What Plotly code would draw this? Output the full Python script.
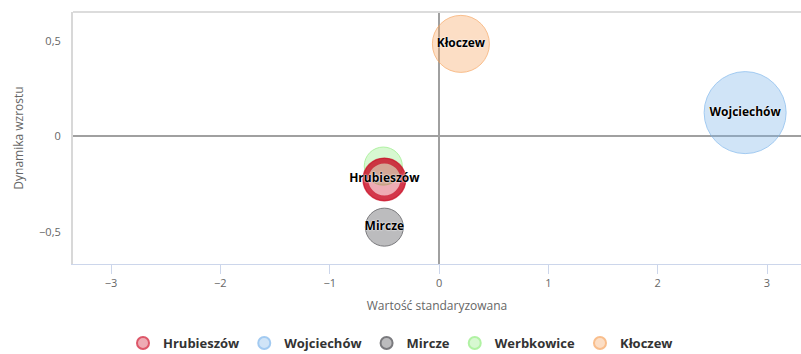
import plotly.graph_objects as go

# ---- data ----
names = ["Hrubieszów", "Wojciechów", "Mircze", "Werbkowice", "Kłoczew"]
x_std = [-0.50, 2.80, -0.50, -0.51, 0.20]          # Wartość standaryzowana
y_dyn = [-0.225, 0.125, -0.475, -0.155, 0.485]     # Dynamika wzrostu
bubble_size = [42, 82, 38, 38, 57]                  # bubble diameter value
colors = ["#d0112b", "#7cb5ec", "#434348", "#90ed7d", "#f7a35c"]
x_ticks = [-3, -2, -1, 0, 1, 2, 3]
y_ticks = [-0.5, 0, 0.5]

FONT = "Open Sans, Noto Sans, sans-serif"


def rgba(hexc, a):
    h = hexc.lstrip("#")
    r, g, b = int(h[0:2], 16), int(h[2:4], 16), int(h[4:6], 16)
    return f"rgba({r},{g},{b},{a})"


fig = go.Figure()

# draw order: Werbkowice behind Hrubieszów (highlighted one on top)
draw_order = [3, 2, 1, 4, 0]
labelled = {"Hrubieszów", "Wojciechów", "Mircze", "Kłoczew"}
for rank_i in draw_order:
    n = names[rank_i]
    fig.add_trace(go.Scatter(
        x=[x_std[rank_i]], y=[y_dyn[rank_i]],
        mode="markers",
        name=n,
        legendrank=rank_i + 1,
        marker=dict(
            size=[bubble_size[rank_i]], sizemode="diameter", sizeref=1,
            color=rgba(colors[rank_i], 0.5),
            line=dict(color=colors[rank_i], width=1),
        ),
        hoverinfo="name+x+y",
    ))

# highlighted ring for Hrubieszów
fig.add_trace(go.Scatter(
    x=[x_std[0]], y=[y_dyn[0]], mode="markers",
    showlegend=False, hoverinfo="skip",
    marker=dict(size=[bubble_size[0] - 4], sizemode="diameter", sizeref=1,
                color="rgba(0,0,0,0)", line=dict(color="#c8071f", width=6)),
))

# data labels on top
for i, n in enumerate(names):
    if n not in labelled:
        continue
    fig.add_trace(go.Scatter(
        x=[x_std[i]], y=[y_dyn[i]], mode="text", text=[n],
        textposition="middle center", showlegend=False, hoverinfo="skip",
        textfont=dict(family=FONT, size=12, color="#000000", weight="bold",
                      shadow="0px 0px 2px #ffffff, 0px 0px 1px #ffffff"),
    ))

fig.update_layout(
    width=801, height=354,
    margin=dict(l=73, r=0, t=12, b=90),
    paper_bgcolor="white", plot_bgcolor="white",
    font=dict(family=FONT, size=11, color="#666666"),
    separators=", ",
    showlegend=True,
    legend=dict(orientation="h", xref="container", yref="container",
                x=0.5, xanchor="center", y=1 - 343 / 354, yanchor="middle",
                font=dict(family=FONT, size=13, color="#333333", weight="bold"),
                itemsizing="constant", traceorder="normal"),
    xaxis=dict(
        range=[-3.348, 3.311], tickvals=x_ticks, showgrid=False,
        zeroline=True, zerolinecolor="#a0a0a0", zerolinewidth=2,
        showline=True, linecolor="#ccd6eb", linewidth=1,
        ticks="outside", ticklen=9, tickcolor="#ccd6eb",
        tickfont=dict(size=11, color="#666666"),
        title=dict(text="Wartość standaryzowana", font=dict(size=12, color="#666666"), standoff=12),
    ),
    yaxis=dict(
        range=[-0.668, 0.652], tickvals=y_ticks, showgrid=False,
        zeroline=True, zerolinecolor="#a0a0a0", zerolinewidth=2,
        showline=True, linecolor="#d8d8d8", linewidth=2,
        ticks="", ticklabelstandoff=8,
        tickfont=dict(size=11, color="#666666"),
        title=dict(text="Dynamika wzrostu", font=dict(size=12, color="#666666"), standoff=13),
    ),
    shapes=[dict(type="line", xref="paper", yref="paper", x0=0, x1=1, y0=1, y1=1,
                 line=dict(color="#dcdcdc", width=2))],
)

fig.write_html("out.html", config={"displayModeBar": False},
               post_script="document.body.style.margin='0px';")
